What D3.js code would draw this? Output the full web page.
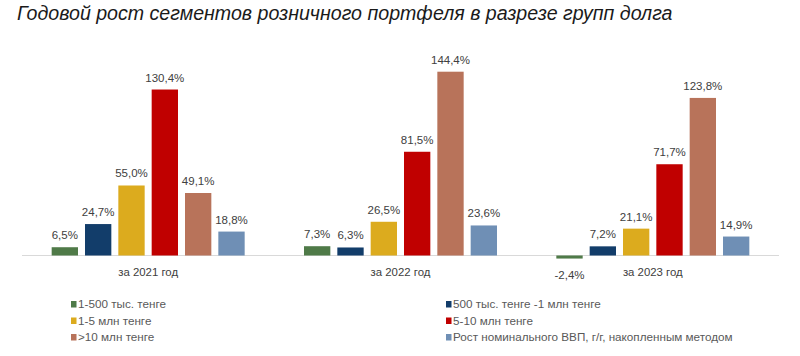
<!DOCTYPE html>
<html><head><meta charset="utf-8">
<script src="https://cdn.jsdelivr.net/npm/d3@7"></script>
<style>body{margin:0;background:#fff}svg{display:block}</style>
</head><body>
<svg id="c" width="800" height="356"></svg>
<script>
const title = "Годовой рост сегментов розничного портфеля в разрезе групп долга";
const categories = ["за 2021 год", "за 2022 год", "за 2023 год"];
const seriesNames = ["1-500 тыс. тенге", "500 тыс. тенге -1 млн тенге", "1-5 млн тенге", "5-10 млн тенге", ">10 млн тенге", "Рост номинального ВВП, г/г, накопленным методом"];
const s1 = [6.5, 7.3, -2.4];
const s2 = [24.7, 6.3, 7.2];
const s3 = [55.0, 26.5, 21.1];
const s4 = [130.4, 81.5, 71.7];
const s5 = [49.1, 144.4, 123.8];
const s6 = [18.8, 23.6, 14.9];
const colors = ["#4f7a48", "#123d6a", "#dcab1e", "#c00000", "#b8735a", "#6f8fb5"];

const series = [s1, s2, s3, s4, s5, s6];
const svg = d3.select("#c");
const fmt = v => v.toFixed(1).replace(".", ",") + "%";
const FONT = "Liberation Sans, Arial, sans-serif";

svg.append("text").attr("x", 17).attr("y", 20)
  .attr("font-family", FONT).attr("font-style", "italic")
  .attr("font-size", 19.6).attr("fill", "#1a1a1a").text(title);

const x0 = d3.scaleBand().domain(categories).range([22, 779]).paddingInner(0).paddingOuter(0);
const x1 = d3.scaleBand().domain(d3.range(6)).range([0, x0.bandwidth()]).paddingInner(0.21).paddingOuter(0.89);
const y = d3.scaleLinear().domain([0, 144.4]).range([255.5, 71.7]);

svg.append("line").attr("x1", 22).attr("x2", 779).attr("y1", y(0)).attr("y2", y(0))
  .attr("stroke", "#d9d9d9").attr("stroke-width", 1);

series.forEach((vals, si) => {
  const g = svg.append("g");
  vals.forEach((v, ci) => {
    const bx = x0(categories[ci]) + x1(si);
    g.append("rect").attr("x", bx).attr("width", x1.bandwidth())
      .attr("y", Math.min(y(v), y(0))).attr("height", Math.abs(y(v) - y(0)))
      .attr("fill", colors[si]);
    g.append("text").attr("x", bx + x1.bandwidth() / 2)
      .attr("y", v >= 0 ? y(v) - 8 : y(v) + 20)
      .attr("text-anchor", "middle").attr("font-family", FONT)
      .attr("font-size", 11.5).attr("fill", "#404040").text(fmt(v));
  });
});

categories.forEach(c => {
  svg.append("text").attr("x", x0(c) + x0.bandwidth() / 2).attr("y", 275.5)
    .attr("text-anchor", "middle").attr("font-family", FONT)
    .attr("font-size", 11.4).attr("fill", "#404040").text(c);
});

const lg = svg.append("g");
seriesNames.forEach((n, i) => {
  const col = i % 2, row = Math.floor(i / 2);
  const lx = col === 0 ? 71 : 446, ly = 304 + row * 16.5;
  lg.append("rect").attr("x", lx).attr("y", ly - 3).attr("width", 5.5).attr("height", 6.5).attr("fill", colors[i]);
  lg.append("text").attr("x", lx + 7).attr("y", ly + 4.2)
    .attr("font-family", FONT)
    .attr("font-size", 11.7).attr("fill", "#595959").text(n);
});
</script>
</body></html>
